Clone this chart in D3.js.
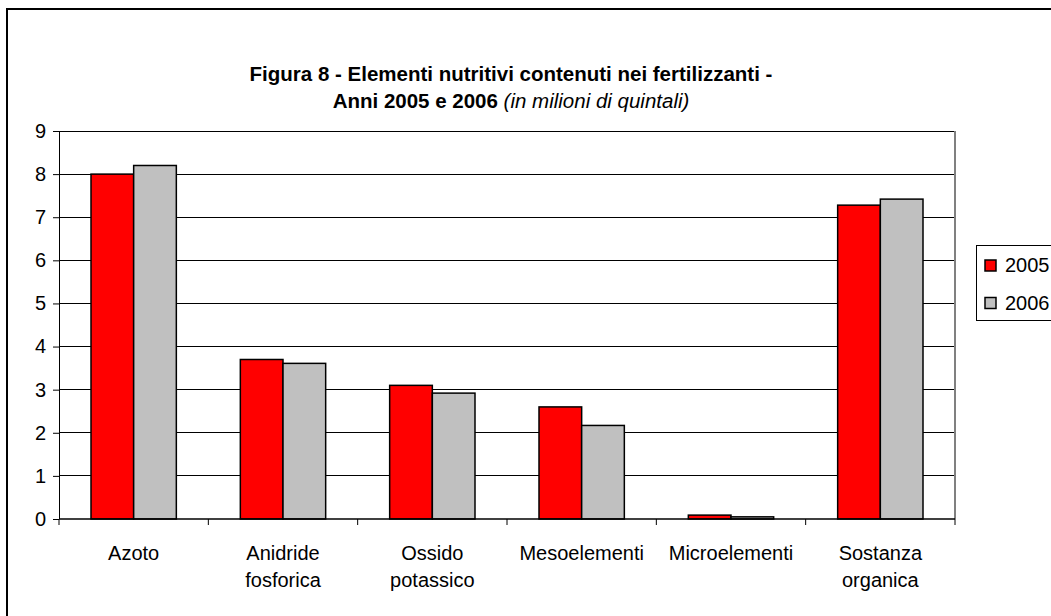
<!DOCTYPE html>
<html>
<head>
<meta charset="utf-8">
<script src="https://cdn.jsdelivr.net/npm/d3@7"></script>
<style>
  html, body { margin: 0; padding: 0; background: #fff; }
  svg { display: block; font-family: Arial, "Liberation Sans", sans-serif; }
</style>
</head>
<body>
<svg id="chart" width="1051" height="616"></svg>
<script>
const categories = [["Azoto"], ["Anidride", "fosforica"], ["Ossido", "potassico"], ["Mesoelementi"], ["Microelementi"], ["Sostanza", "organica"]];
const seriesNames = ["2005", "2006"];
const values2005 = [8.0, 3.7, 3.1, 2.6, 0.09, 7.28];
const values2006 = [8.2, 3.61, 2.92, 2.17, 0.05, 7.42];
const yTicks = [0, 1, 2, 3, 4, 5, 6, 7, 8, 9];
const colors = ["#FF0000", "#C0C0C0"];

const svg = d3.select("#chart");
const plot = { left: 59, right: 955, top: 131, bottom: 519 };

// chart area border (only left/top visible in frame)
svg.append("rect").attr("x", 7).attr("y", 9).attr("width", 1100).attr("height", 700)
  .attr("fill", "#fff").attr("stroke", "#000").attr("stroke-width", 2);

// title
const title = svg.append("text").attr("text-anchor", "middle").attr("font-size", 20.5).attr("font-weight", "bold");
title.append("tspan").attr("x", 511).attr("y", 81).text("Figura 8 - Elementi nutritivi contenuti nei fertilizzanti -");
const t2 = title.append("tspan").attr("x", 511).attr("y", 108);
t2.append("tspan").text("Anni 2005 e 2006 ");
t2.append("tspan").attr("font-weight", "normal").attr("font-style", "italic").text("(in milioni di quintali)");

const catKeys = categories.map(c => c.join(" "));
const x0 = d3.scaleBand().domain(catKeys).range([plot.left, plot.right]).padding(0);
const bw = x0.bandwidth();
const groupW = bw * 2 / 3.5;
const x1 = d3.scaleBand().domain(seriesNames).range([(bw - groupW) / 2, (bw + groupW) / 2]).padding(0);
const y = d3.scaleLinear().domain([0, 9]).range([plot.bottom, plot.top]);

// gridlines
svg.append("g").selectAll("line").data(yTicks.filter(d => d > 0)).join("line")
  .attr("x1", plot.left).attr("x2", plot.right)
  .attr("y1", d => y(d)).attr("y2", d => y(d))
  .attr("stroke", "#000").attr("stroke-width", 1).attr("shape-rendering", "crispEdges");

// right plot border
svg.append("line").attr("x1", plot.right).attr("x2", plot.right).attr("y1", plot.top).attr("y2", plot.bottom)
  .attr("stroke", "#808080").attr("stroke-width", 2).attr("shape-rendering", "crispEdges");

// bars
const data = catKeys.map((k, i) => ({ key: k, vals: [values2005[i], values2006[i]] }));
const groups = svg.append("g").selectAll("g").data(data).join("g")
  .attr("transform", d => `translate(${x0(d.key)},0)`);
groups.selectAll("rect").data(d => d.vals.map((v, j) => ({ s: seriesNames[j], v, j }))).join("rect")
  .attr("x", d => x1(d.s)).attr("width", x1.bandwidth())
  .attr("y", d => y(d.v)).attr("height", d => y(0) - y(d.v))
  .attr("fill", d => colors[d.j]).attr("stroke", "#000").attr("stroke-width", 1.5);

// y axis
const yAxis = d3.axisLeft(y).tickValues(yTicks).tickSize(6).tickPadding(7).tickFormat(d3.format("d"));
const yg = svg.append("g").attr("transform", `translate(${plot.left},0)`).call(yAxis);
yg.select(".domain").remove();
yg.selectAll(".tick line").attr("stroke", "#000");
yg.selectAll("text").attr("font-size", 20).attr("fill", "#000").attr("font-family", "Arial, 'Liberation Sans', sans-serif");
svg.append("line").attr("x1", plot.left).attr("x2", plot.left).attr("y1", plot.top).attr("y2", plot.bottom)
  .attr("stroke", "#000").attr("stroke-width", 1).attr("shape-rendering", "crispEdges");

// x axis
svg.append("line").attr("x1", plot.left).attr("x2", plot.right).attr("y1", plot.bottom).attr("y2", plot.bottom)
  .attr("stroke", "#000").attr("stroke-width", 1.5);
const boundaries = catKeys.map(k => x0(k)).concat([plot.right]);
svg.append("g").selectAll("line").data(boundaries).join("line")
  .attr("x1", d => d).attr("x2", d => d).attr("y1", plot.bottom).attr("y2", plot.bottom + 6)
  .attr("stroke", "#000").attr("stroke-width", 1);

const xl = svg.append("g").selectAll("text").data(categories).join("text")
  .attr("text-anchor", "middle").attr("font-size", 20)
  .attr("x", (d, i) => x0(catKeys[i]) + bw / 2).attr("y", 560);
xl.selectAll("tspan").data(d => d).join("tspan")
  .attr("x", function() { return this.parentNode.getAttribute("x"); })
  .attr("dy", (d, i) => i === 0 ? 0 : 27).text(d => d);

// legend
const lg = svg.append("g");
lg.append("rect").attr("x", 976.5).attr("y", 245.5).attr("width", 120).attr("height", 75)
  .attr("fill", "#fff").attr("stroke", "#000").attr("stroke-width", 1);
const items = lg.selectAll("g").data(seriesNames).join("g")
  .attr("transform", (d, i) => `translate(0,${i * 37.5})`);
items.append("rect").attr("x", 985).attr("y", 260).attr("width", 11).attr("height", 11)
  .attr("fill", (d, i) => colors[i]).attr("stroke", "#000").attr("stroke-width", 1.5);
items.append("text").attr("x", 1005).attr("y", 272).attr("font-size", 20).text(d => d);
</script>
</body>
</html>
